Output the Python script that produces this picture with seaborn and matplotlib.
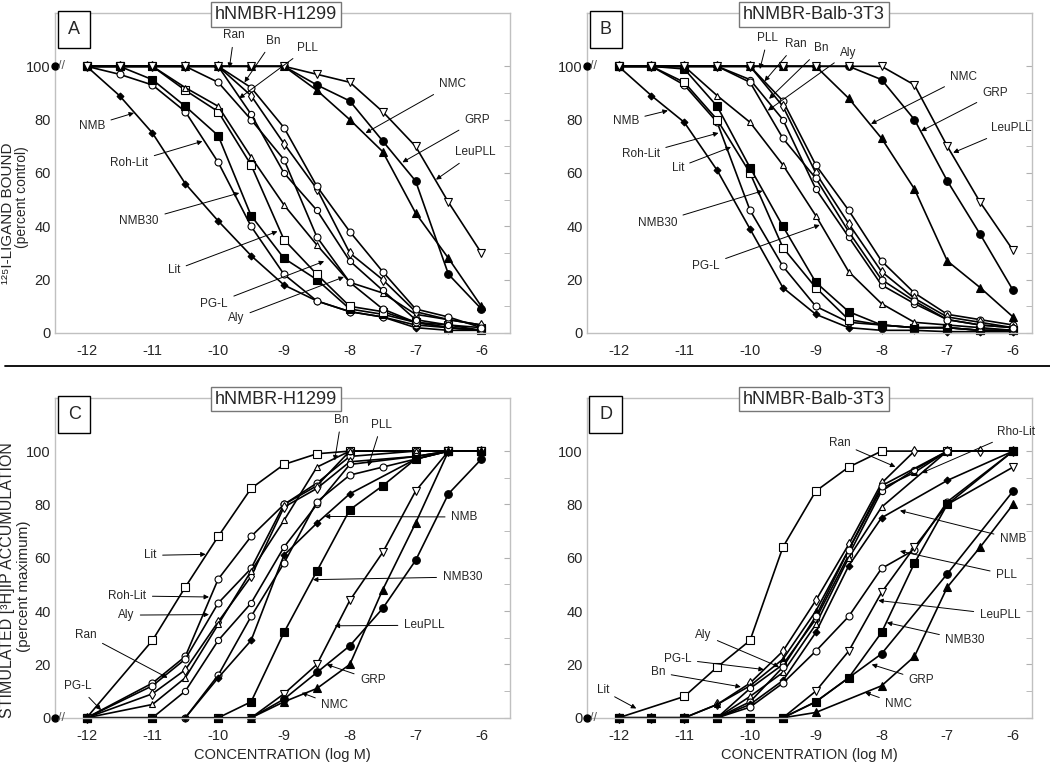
import numpy as np
import pandas as pd
import seaborn as sns
import matplotlib.pyplot as plt
from matplotlib.lines import Line2D

nan = np.nan

# log M concentrations
conc = [-12, -11.5, -11, -10.5, -10, -9.5, -9, -8.5, -8, -7.5, -7, -6.5, -6]
control_x = -12.48

# A: 125I-ligand binding, hNMBR-H1299 (percent control)
bind_h1299 = {
    "NMB":     [100, 89, 75, 56, 42, 29, 18, 12, 8, 6, 2, 1, 1],
    "Roh-Lit": [100, 97, 93, 83, 64, 40, 22, 12, 8, 6, 3, 2, 1],
    "NMB30":   [100, 100, 95, 85, 74, 44, 28, 20, 9, 7, 4, 2, 1],
    "Lit":     [100, 100, 100, 91, 83, 63, 35, 22, 10, 8, 4, 3, 2],
    "PG-L":    [100, 100, 100, 92, 85, 66, 48, 33, 19, 15, 7, 5, 3],
    "Aly":     [100, 100, 100, 100, 94, 80, 65, 36, 19, 9, 4, 2, 1],
    "Ran":     [100, 100, 100, 100, 100, 89, 71, 54, 30, 20, 8, 5, 3],
    "Bn":      [100, 100, 100, 100, 100, 82, 60, 46, 27, 16, 5, 3, 1],
    "PLL":     [100, 100, 100, 100, 100, 92, 77, 55, 38, 23, 9, 6, 2],
    "NMC":     [100, 100, 100, 100, 100, 100, 100, 91, 80, 68, 45, 28, 10],
    "GRP":     [100, 100, 100, 100, 100, 100, 100, 93, 87, 72, 57, 22, 9],
    "LeuPLL":  [100, 100, 100, 100, 100, 100, 100, 97, 94, 83, 70, 49, 30],
}

# B: 125I-ligand binding, hNMBR-Balb-3T3 (percent control)
bind_balb = {
    "NMB":     [100, 89, 79, 61, 39, 17, 7, 2, 1, 1, 0.5, 0.5, 0.5],
    "Roh-Lit": [100, 100, 93, 79, 46, 25, 10, 4, 3, 2, 2, 1, 1],
    "Lit":     [100, 100, 94, 80, 60, 32, 17, 5, 3, 2, 2, 1, 1],
    "NMB30":   [100, 100, 99, 85, 62, 40, 19, 8, 3, 2, 2, 1, 1],
    "PG-L":    [100, 100, 100, 89, 79, 63, 44, 23, 11, 4, 3, 2, 1],
    "PLL":     [100, 100, 100, 100, 100, 87, 63, 46, 27, 15, 7, 5, 3],
    "Ran":     [100, 100, 100, 100, 100, 85, 60, 41, 23, 13, 6, 4, 2],
    "Bn":      [100, 100, 100, 100, 95, 80, 54, 36, 18, 11, 5, 3, 2],
    "Aly":     [100, 100, 100, 100, 94, 73, 58, 38, 20, 12, 5, 3, 2],
    "NMC":     [100, 100, 100, 100, 100, 100, 100, 88, 73, 54, 27, 17, 6],
    "GRP":     [100, 100, 100, 100, 100, 100, 100, 100, 95, 80, 57, 37, 16],
    "LeuPLL":  [100, 100, 100, 100, 100, 100, 100, 100, 100, 93, 70, 49, 31],
}

# C: stimulated [3H]IP accumulation, hNMBR-H1299 (percent maximum)
ip_h1299 = {
    "Lit":     [0, nan, 29, 49, 68, 86, 95, 99, 100, nan, 100, 100, 100],
    "Roh-Lit": [0, nan, 13, 23, 52, 68, 80, 88, 98, nan, 100, 100, 100],
    "Aly":     [0, nan, 12, 22, 43, 56, 80, 87, 100, nan, 100, 100, 100],
    "Ran":     [0, nan, 9, 18, 36, 53, 79, 86, 96, nan, 98, 100, 100],
    "PG-L":    [0, nan, 5, 15, 35, 55, 74, 94, 100, nan, 100, 100, 100],
    "Bn":      [0, nan, 0, 10, 29, 43, 64, 80, 95, nan, 98, 100, 100],
    "PLL":     [0, nan, 0, 0, 16, 38, 58, 81, 91, 94, 97, 100, 100],
    "NMB":     [0, nan, 0, 0, 15, 29, 61, 73, 84, nan, 97, 100, 100],
    "NMB30":   [0, nan, 0, nan, 0, 6, 32, 55, 78, 87, 97, 100, 100],
    "LeuPLL":  [0, nan, 0, nan, 0, 0, 9, 20, 44, 62, 85, 100, 100],
    "GRP":     [0, nan, 0, nan, 0, 0, 7, 17, 27, 41, 59, 84, 97],
    "NMC":     [0, nan, 0, nan, 0, 0, 6, 11, 20, 48, 73, 100, 100],
}

# D: stimulated [3H]IP accumulation, hNMBR-Balb-3T3 (percent maximum)
ip_balb = {
    "Lit":     [0, nan, 8, 19, 29, 64, 85, 94, 100, nan, 100, nan, 100],
    "Ran":     [0, 0, 0, 5, 13, 25, 44, 65, 88, 100, 100, 100, 100],
    "Rho-Lit": [0, 0, 0, 5, 12, 22, 40, 63, 86, 92, 100, nan, 100],
    "Bn":      [0, 0, 0, 0, 11, 20, 37, 61, 85, 93, 100, nan, 100],
    "PG-L":    [0, 0, 0, 0, 8, 17, 35, 60, 79, nan, 100, nan, 100],
    "Aly":     [0, 0, 0, 0, 6, 19, 38, 63, 87, nan, 100, nan, 100],
    "NMB":     [0, 0, 0, 0, 5, 14, 32, 57, 75, nan, 89, nan, 100],
    "PLL":     [0, 0, 0, 0, 4, 13, 25, 38, 56, 63, 81, nan, 100],
    "LeuPLL":  [0, 0, 0, 0, 0, 0, 10, 25, 47, 64, 80, nan, 94],
    "NMB30":   [0, 0, 0, 0, 0, 0, 6, 15, 32, 58, 80, nan, 100],
    "GRP":     [0, 0, 0, 0, 0, 0, 6, 15, 24, nan, 54, nan, 85],
    "NMC":     [0, 0, 0, 0, 0, 0, 2, nan, 12, 23, 49, 64, 80],
}

# marker, filled?, size
styles = {
    "NMB": ("D", True, 3.5), "NMB30": ("s", True, 5.5), "GRP": ("o", True, 5.5),
    "NMC": ("^", True, 5.5), "LeuPLL": ("v", False, 5.5), "Lit": ("s", False, 5.5),
    "Roh-Lit": ("o", False, 5), "Rho-Lit": ("^", True, 4), "PG-L": ("^", False, 5),
    "Aly": ("o", False, 5), "Ran": ("d", False, 5), "Bn": ("o", False, 4.5),
    "PLL": ("o", False, 5),
}

# label text, text position, arrow tip (data coords)
labels_a = [
    ("Ran", (-9.76, 111.6), (-9.83, 99.4)), ("Bn", (-9.17, 109.6), (-9.6, 94)),
    ("PLL", (-8.64, 107), (-9.68, 88)), ("NMC", (-6.44, 93.4), (-7.76, 75)),
    ("GRP", (-6.06, 80), (-7.2, 64)), ("LeuPLL", (-6.1, 67.7), (-6.69, 57.5)),
    ("NMB", (-11.92, 77.7), (-11.28, 82.5)), ("Roh-Lit", (-11.35, 63.7), (-10.24, 71.9)),
    ("NMB30", (-11.2, 41.9), (-9.68, 52.5)), ("Lit", (-10.67, 23.5), (-9.1, 38.1)),
    ("PG-L", (-10.06, 11), (-8.39, 26.9)), ("Aly", (-9.73, 5.6), (-8.09, 21)),
]
labels_b = [
    ("PLL", (-9.73, 110.6), (-9.85, 99)), ("Ran", (-9.3, 108.3), (-9.78, 94.4)),
    ("Bn", (-8.92, 106.7), (-9.71, 87.8)), ("Aly", (-8.51, 105), (-9.73, 83.4)),
    ("NMC", (-6.75, 96), (-8.16, 78.4)), ("GRP", (-6.27, 90), (-7.4, 75.7)),
    ("LeuPLL", (-6.03, 76.8), (-6.91, 67.6)), ("NMB", (-11.89, 79.5), (-11.25, 83.4)),
    ("Roh-Lit", (-11.66, 67), (-10.48, 75)), ("Lit", (-11.1, 62), (-10.29, 69.7)),
    ("NMB30", (-11.41, 41.3), (-9.81, 53.3)), ("PG-L", (-10.67, 25.3), (-8.94, 40.5)),
]
labels_c = [
    ("Bn", (-8.13, 111.7), (-8.23, 96.5)), ("PLL", (-7.52, 109.9), (-7.72, 94.3)),
    ("NMB", (-6.26, 75.3), (-8.38, 75.5)), ("NMB30", (-6.29, 52.8), (-8.56, 51.8)),
    ("LeuPLL", (-6.87, 34.7), (-8.23, 34.5)), ("GRP", (-7.65, 14.1), (-8.35, 20)),
    ("NMC", (-8.23, 4.7), (-8.73, 9.4)), ("Lit", (-11.03, 60.9), (-10.19, 61.3)),
    ("Roh-Lit", (-11.38, 45.7), (-10.14, 45.3)), ("Aly", (-11.4, 38.5), (-10.14, 38.7)),
    ("Ran", (-12.01, 31.2), (-10.77, 15)), ("PG-L", (-12.13, 11.9), (-11.78, 2.9)),
]
labels_d = [
    ("Ran", (-8.64, 103.2), (-7.79, 94.1)), ("Rho-Lit", (-5.95, 107.2), (-7.39, 91.8)),
    ("NMB", (-6.0, 67.1), (-7.72, 77.7)), ("PLL", (-6.1, 53.7), (-7.72, 62.5)),
    ("LeuPLL", (-6.2, 38.7), (-8.05, 44)), ("NMB30", (-6.73, 29), (-7.92, 35.7)),
    ("GRP", (-7.39, 14.1), (-8.15, 20)), ("NMC", (-7.74, 5), (-8.25, 9.5)),
    ("Aly", (-10.71, 31.2), (-9.56, 19.1)), ("PG-L", (-11.1, 22), (-9.79, 18.1)),
    ("Bn", (-11.4, 17), (-10.14, 11.6)), ("Lit", (-12.24, 10.3), (-11.73, 3.5)),
]

# y-axis titles: (line, axes-x, axes-y, fontsize)
ytitle_a = [("¹²⁵I-LIGAND BOUND", -0.104, 0.375, 11), ("(percent control)", -0.073, 0.425, 10)]
ytitle_c = [("STIMULATED [³H]IP ACCUMULATION", -0.104, 0.431, 11.5),
            ("(percent maximum)", -0.069, 0.41, 11)]

sns.set_style("white")
plt.rcParams["font.family"] = ["Liberation Sans", "DejaVu Sans"]

fig = plt.figure(figsize=(10.5, 7.62), dpi=100)

panels = [
    # data, labels, letter, title, rect, xmax, control value, y title
    (bind_h1299, labels_a, "A", "hNMBR-H1299", [0.0524, 0.563, 0.433, 0.420], -5.57, 100, ytitle_a),
    (bind_balb, labels_b, "B", "hNMBR-Balb-3T3", [0.559, 0.563, 0.424, 0.420], -5.71, 100, []),
    (ip_h1299, labels_c, "C", "hNMBR-H1299", [0.0524, 0.058, 0.433, 0.420], -5.57, 0, ytitle_c),
    (ip_balb, labels_d, "D", "hNMBR-Balb-3T3", [0.559, 0.058, 0.424, 0.420], -5.71, 0, []),
]

for data, labels, letter, title, rect, xmax, ctrl, ytitle in panels:
    ax = fig.add_axes(rect)
    for name, vals in data.items():
        df = pd.DataFrame({"x": conc, "y": vals}).dropna()
        mk, filled, ms = styles[name]
        sns.lineplot(data=df, x="x", y="y", ax=ax, color="black", lw=1.2,
                     marker=mk, markersize=ms, markeredgecolor="black",
                     markerfacecolor="black" if filled else "white",
                     markeredgewidth=0.8, clip_on=False, sort=False,
                     estimator=None)
    # control point on the broken axis
    ax.plot([control_x], [ctrl], "o", color="black", ms=5, clip_on=False, zorder=5)
    ax.text(-12.38, ctrl, "//", ha="center", va="center", fontsize=9,
            color="#555555", zorder=6)

    for text, xytext, xy in labels:
        ax.annotate(text, xy=xy, xytext=xytext, ha="center", va="center",
                    fontsize=8.5,
                    arrowprops=dict(arrowstyle="-|>", color="black", lw=0.7,
                                    mutation_scale=7, shrinkA=2, shrinkB=0))

    ax.set_xlim(-12.48, xmax)
    ax.set_ylim(0, 120)
    ax.set_xticks(range(-12, -5))
    ax.set_xticklabels([str(v) for v in range(-12, -5)])
    ax.set_yticks([0, 20, 40, 60, 80, 100])
    ax.set_yticks([10, 30, 50, 70, 90], minor=True)
    ax.tick_params(which="both", direction="in", color="#b0b0b0",
                   labelsize=10.5, right=True, length=4, pad=3)
    ax.tick_params(axis="x", pad=8)
    for sp in ax.spines.values():
        sp.set_color("#c0c0c0")
        sp.set_linewidth(1.0)
    ax.set_xlabel("")
    ax.set_ylabel("")

    ax.text(0.042, 0.947, letter, transform=ax.transAxes, ha="center", va="center",
            fontsize=13, bbox=dict(boxstyle="square,pad=0.55", fc="white", ec="black", lw=1))
    tx = 0.486 if letter in "AC" else 0.51
    ax.text(tx, 0.995, title, transform=ax.transAxes, ha="center", va="center",
            fontsize=13, bbox=dict(boxstyle="square,pad=0.2", fc="white", ec="#777777", lw=1))

    for line, lx, ly, fs in ytitle:
        ax.text(lx, ly, line, transform=ax.transAxes, rotation=90,
                ha="center", va="center", fontsize=fs)
    if letter in "CD":
        ax.set_xlabel("CONCENTRATION (log M)", fontsize=10.5, labelpad=4)

fig.add_artist(Line2D([0.005, 1.0], [0.52, 0.52], color="black", lw=1.3))

fig.savefig("out.png", dpi=100)
